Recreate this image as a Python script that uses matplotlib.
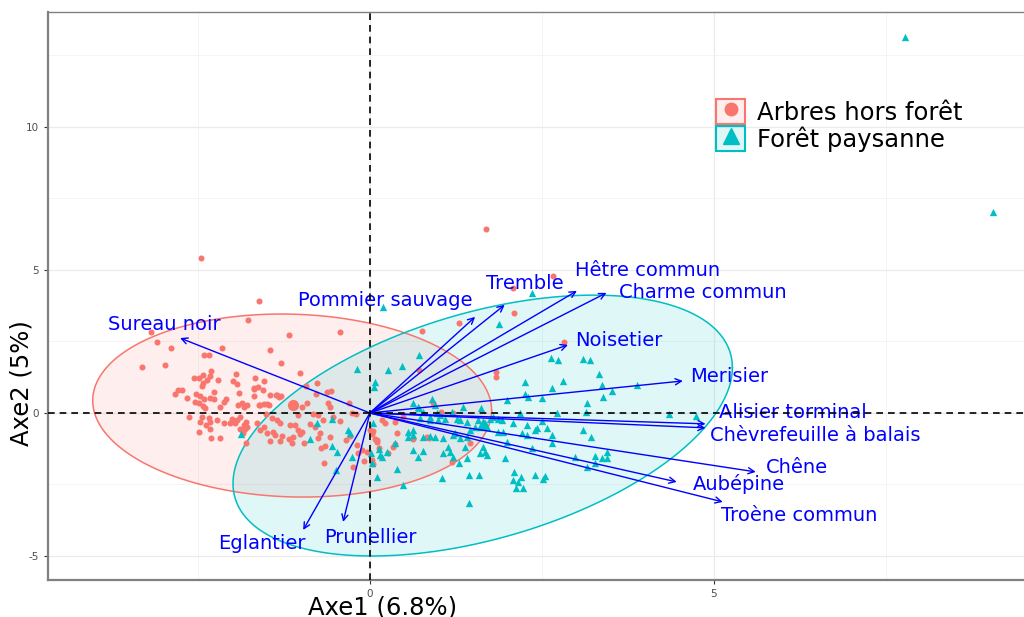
import numpy as np
import matplotlib
matplotlib.use('Agg')
import matplotlib.pyplot as plt
from matplotlib.patches import Patch
from matplotlib.lines import Line2D
from matplotlib.colors import to_rgba

plt.rcParams['axes.unicode_minus'] = False

# variables (fleches de l'ACP)
especes = ['Sureau noir', 'Eglantier', 'Prunellier', 'Pommier sauvage', 'Tremble',
           'Hêtre commun', 'Charme commun', 'Noisetier', 'Merisier', 'Alisier torminal',
           'Chèvrefeuille à balais', 'Chêne', 'Aubépine', 'Troène commun']
axe1 = [-2.76, -0.97, -0.39, 1.53, 1.96, 3.01, 3.44, 2.88, 4.55, 4.88, 4.88, 5.61, 4.46, 5.13]
axe2 = [2.62, -4.09, -3.81, 3.36, 3.78, 4.27, 4.20, 2.38, 1.12, -0.38, -0.52, -2.06, -2.41, -3.11]

# individus
groupes = ['Arbres hors forêt', 'Forêt paysanne']
ahf_x = [-2.46, -1.61, -1.77, -1.18, -0.44, -3.18, -3.10, -2.89, -2.15, -1.45, -2.41, -2.34, -3.31,
         -2.98, -1.29, -2.31, -2.33, -1.02, -1.95, -2.56, -2.49, -2.43, -1.67, -2.37, -2.43, -2.44,
         -1.99, -1.93, -2.21, -1.54, -2.73, -2.79, -2.27, -1.90, -1.69, -1.56, -2.83, -2.53, -2.47,
         -2.41, -2.33, -2.27, -2.66, -2.09, -2.12, -1.37, -1.29, -2.54, -2.49, -2.43, -2.40, -2.18,
         -1.92, -1.83, -1.61, -1.47, -1.54, -2.63, -2.44, -2.34, -2.01, -1.93, -1.89, -2.12, -2.03,
         -1.96, -2.47, -2.38, -2.33, -1.80, -1.83, -1.89, -1.82, -1.85, -2.33, -2.22, -2.49, -2.31,
         -2.18, -1.80, -0.77, -0.93, -0.78, -0.63, -0.57, -1.69, -1.62, -0.31, -1.86, -1.79, -1.69,
         -1.60, -1.50, -1.45, -1.35, -1.32, -0.99, -1.05, -0.92, -0.58, -0.61, -0.26, -0.20, -1.35,
         -1.31, -1.42, -1.51, -0.83, -0.76, -0.68, -0.54, -0.44, -1.79, -1.64, -1.60, -1.54, -1.50,
         -1.41, -1.38, -1.16, -1.09, -1.05, -0.99, -1.02, -0.87, -0.80, -0.73, -0.76, -1.31, -1.18,
         -1.12, -1.13, -0.96, -1.45, -1.28, -0.58, -0.35, -0.29, -0.19, -0.12, -0.04, -0.71, -0.65,
         0.10, 0.07, -0.17, -0.09, -0.67, -0.25, 0.04, 0.03, 0.71, 1.83, 1.83, 0.92, 1.03, 1.21,
         0.48, 0.17, 0.22, 0.36, 0.39, 0.04, 0.10, 0.62, 0.83, 0.86, 0.36, 0.33, 1.45, 0.13, 0.26,
         0.00, 0.03, 1.69, 2.66, 2.08, 2.09, 1.29, 0.76, 2.82, 1.19]
ahf_y = [5.42, 3.92, 3.25, 2.73, 2.83, 2.83, 2.48, 2.27, 2.27, 2.20, 2.03, 2.03, 1.61,
         1.68, 1.75, 1.47, 1.29, 1.40, 1.36, 1.22, 1.22, 1.33, 1.22, 1.15, 1.05, 0.94,
         1.12, 1.01, 1.15, 1.12, 0.80, 0.80, 0.73, 0.70, 0.84, 0.80, 0.66, 0.66, 0.59,
         0.49, 0.52, 0.49, 0.52, 0.49, 0.38, 0.63, 0.59, 0.38, 0.35, 0.24, 0.17, 0.21,
         0.28, 0.21, 0.28, 0.28, 0.31, -0.14, -0.14, -0.17, -0.21, -0.24, -0.14, -0.35, -0.35,
         -0.35, -0.31, -0.42, -0.31, -0.31, -0.42, -0.56, -0.56, -0.70, -0.56, -0.24, -0.66, -0.87,
         -0.87, -1.05, 1.05, 0.94, 0.66, 0.73, 0.77, 0.87, 0.90, 0.35, 0.35, 0.28, 0.59,
         0.28, 0.31, 0.63, 0.63, 0.56, 0.21, -0.07, 0.35, 0.21, 0.35, 0.00, -0.03, -0.24,
         -0.35, -0.17, -0.03, -0.03, -0.07, -0.24, -0.14, -0.28, -0.49, -0.35, -0.59, -0.49, -0.70,
         -0.66, -0.77, -0.42, -0.42, -0.59, -0.66, -0.73, -0.38, -0.49, -0.70, -0.87, -0.98, -0.91,
         -0.84, -1.05, -1.05, -0.98, -0.80, -0.84, -0.94, -0.80, -1.12, -1.29, -1.36, -1.22, -1.15,
         -1.01, -0.90, -1.40, -1.68, -1.75, -1.89, -1.78, -1.64, 1.50, 1.43, 1.26, 0.35, 0.03, 0.00,
         -0.14, -0.24, -0.35, -0.31, -0.70, -0.63, -0.94, -0.91, -0.84, -0.87, -1.08, -1.19, -1.05, -1.22, -1.40,
         -0.59, -0.73, 6.43, 4.79, 4.37, 3.50, 3.15, 2.87, 2.48, -1.71]
fp_x = [7.78, 9.06, 2.35, 1.88, 0.19, -0.19, 0.26, 0.07, 0.06, -0.55, -0.77, -1.88, -0.32, -0.29,
        -0.55, -0.48, -0.26, 0.17, 0.13, 0.03, -0.49, 0.10, 0.39, 0.04, -0.87, 0.01, 0.25, 0.48,
        0.36, 0.55, 0.62, 0.62, 0.70, 0.77, 0.62, 0.70, 0.90, 0.94, 0.77, 0.94, 0.87, 0.99, 0.71,
        0.47, 2.25, 2.81, 2.65, 2.25, 2.30, 2.50, 1.99, 1.61, 1.35, 1.19, 0.71, 0.77, 0.97, 1.02,
        1.09, 0.73, 0.87, 1.26, 1.31, 1.41, 1.57, 1.67, 1.60, 1.70, 1.74, 1.79, 1.86, 1.92, 1.86,
        1.93, 2.08, 2.18, 2.28, 2.40, 2.43, 2.57, 2.65, 2.72, 2.21, 2.28, 0.62, 0.87, 1.06, 1.24,
        1.31, 1.41, 1.45, 1.53, 0.55, 1.13, 1.16, 1.06, 1.64, 1.67, 1.60, 1.70, 1.99, 2.35, 2.65,
        0.15, 1.21, 1.21, 1.38, 1.41, 1.29, 1.96, 1.05, 1.44, 1.58, 2.09, 2.08, 2.15, 2.19, 2.12,
        2.22, 2.40, 2.51, 2.54, 1.44, 2.63, 2.73, 3.10, 3.20, 3.33, 3.37, 3.52, 3.88, 3.39, 3.15,
        3.14, 4.35, 4.74, 2.50, 3.10, 3.21, 2.98, 3.28, 3.37, 3.44, 3.44, 3.28, 3.15]
fp_y = [13.15, 7.03, 4.20, 3.11, 3.71, 1.54, 1.50, 1.08, 0.91, -0.21, -0.35, -0.73, -0.59, -0.70,
        -1.15, -1.36, -1.54, -1.54, -1.26, -1.75, -1.99, -2.24, -1.96, -0.35, -0.91, -1.40, -1.36, -2.52,
        -1.05, -0.66, -0.77, -1.29, -1.54, -1.33, 0.35, 0.21, 0.49, 0.28, -0.84, -0.84, -0.14, -0.24, 2.03,
        1.64, 1.08, 1.12, 0.87, 0.66, 0.56, 0.52, 0.45, 0.17, 0.21, 0.03, 0.17, 0.03, 0.00, -0.07,
        -0.21, -0.17, -0.24, -0.21, -0.24, -0.31, -0.24, -0.35, -0.49, -0.49, -0.21, -0.14, -0.21, -0.24, -0.66,
        -0.66, -0.35, 0.00, -0.42, -0.59, -0.52, -0.52, -0.77, 0.00, -0.70, -0.77, -0.59, -0.80, -0.87, -0.70,
        -0.87, -0.84, -0.59, -0.49, -0.84, -1.19, -1.36, -1.40, -1.19, -1.36, -1.40, -1.47, -1.01, -1.22, -1.05,
        -1.47, -0.77, -1.54, -1.19, -1.57, -1.75, -1.57, -2.27, -2.17, -2.17, -2.06, -2.34, -2.41, -2.24, -2.62,
        -2.62, -2.17, -2.31, -2.20, -3.15, 1.92, 1.85, 1.89, 1.85, 1.36, 0.98, 0.77, 0.98, 0.56, 0.35,
        0.03, -0.03, -0.10, -0.28, -0.59, -0.84, -1.54, -1.50, -1.57, -1.57, -1.36, -1.75, -1.89]
# barycentres et matrices des ellipses de concentration
moy_x = [-1.12, 1.64]
moy_y = [0.28, -0.38]
ell_centre = [(-1.13, 0.26), (1.64, -0.44)]
ell_cov = [[[8.41, -0.5], [-0.5, 10.24]],
           [[13.18, 7.35], [7.35, 20.8]]]

# placement des etiquettes (mise en page)
pos_etiq = [(-2.99, 3.08), (-1.57, -4.55), (0.0, -4.37), (0.22, 3.95), (2.25, 4.51),
            (4.03, 4.97), (4.84, 4.20), (3.62, 2.52), (5.23, 1.26), (6.15, 0.0),
            (6.47, -0.80), (6.21, -1.89), (5.36, -2.48), (6.24, -3.57)]

ROUGE = '#F8766D'
CYAN = '#00BFC4'


def ellipse(centre, cov):
    l = np.linalg.cholesky(np.array(cov))
    t = np.linspace(0, 2 * np.pi, 300)
    pts = (l @ np.vstack([np.cos(t), np.sin(t)])).T
    return pts[:, 0] + centre[0], pts[:, 1] + centre[1]


fig = plt.figure(figsize=(10.24, 6.17), dpi=100)
ax = fig.add_axes([48 / 1024, 1 - 580 / 617, 1 - 48 / 1024, (580 - 12) / 617])
ax.set_xlim(-4.68, 9.51)
ax.set_ylim(-5.84, 14.02)

ax.set_xticks([0, 5])
ax.set_yticks([-5, 0, 5, 10])
ax.set_xticks([-2.5, 2.5, 7.5], minor=True)
ax.set_yticks([-2.5, 2.5, 7.5, 12.5], minor=True)
ax.grid(which='major', color='#ebebeb', lw=0.9, zorder=0)
ax.grid(which='minor', color='#f3f3f3', lw=0.6, zorder=0)
ax.set_axisbelow(True)
ax.tick_params(which='major', labelsize=7.5, labelcolor='#4d4d4d', color='#333333', length=3)
ax.tick_params(which='minor', length=0)
for s in ['left', 'bottom']:
    ax.spines[s].set_color('#808080')
    ax.spines[s].set_linewidth(1.6)
ax.spines['top'].set_color('#808080')
ax.spines['top'].set_linewidth(1.0)
ax.spines['right'].set_visible(False)

couleurs = [ROUGE, CYAN]
for c, cen, cov in zip(couleurs, ell_centre, ell_cov):
    ex, ey = ellipse(cen, cov)
    ax.fill(ex, ey, color=c, alpha=0.12, lw=0, zorder=1)
    ax.plot(ex, ey, color=c, lw=1.1, zorder=2)

ax.scatter(ahf_x, ahf_y, s=19, color=ROUGE, marker='o', lw=0, zorder=3)
ax.scatter(fp_x, fp_y, s=28, color=CYAN, marker='^', lw=0, zorder=3)
ax.scatter(moy_x[:1], moy_y[:1], s=65, color=ROUGE, marker='o', lw=0, zorder=3)
ax.scatter(moy_x[1:], moy_y[1:], s=85, color=CYAN, marker='^', lw=0, zorder=3)

for nom, x, y, (tx, ty) in zip(especes, axe1, axe2, pos_etiq):
    ax.annotate('', xy=(x, y), xytext=(0, 0),
                arrowprops=dict(arrowstyle='->', color='#0000FF', lw=1.0,
                                shrinkA=0, shrinkB=0, mutation_scale=11), zorder=4)
    ax.text(tx, ty, nom, color='#0000FF', fontsize=14, ha='center', va='center', zorder=5)

ax.axhline(0, color='black', ls=(0, (4, 3)), lw=1.2, zorder=6)
ax.axvline(0, color='black', ls=(0, (4, 3)), lw=1.2, zorder=6)

ax.set_xlabel('Axe1 (6.8%)', fontsize=17.5)
ax.set_ylabel('Axe2 (5%)', fontsize=17.5)
ax.xaxis.set_label_coords((383 - 48) / 976, -27 / 568)
ax.yaxis.set_label_coords((22 - 48) / 976, (580 - 383) / 568)
ax.xaxis.label.set_va('center')
ax.yaxis.label.set_va('center')

poignees = [(Patch(facecolor=to_rgba(ROUGE, 0.12), edgecolor=ROUGE, lw=1.5),
             Line2D([], [], marker='o', color=ROUGE, ls='', markersize=9)),
            (Patch(facecolor=to_rgba(CYAN, 0.12), edgecolor=CYAN, lw=1.5),
             Line2D([], [], marker='^', color=CYAN, ls='', markersize=11))]
fig.legend(poignees, groupes, loc='upper left', bbox_to_anchor=(716 / 1024, 1 - 99 / 617),
           frameon=False, fontsize=17.5, handlelength=1.2, handleheight=1.2,
           handletextpad=0.5, labelspacing=0.05, borderpad=0, borderaxespad=0)

fig.savefig('out.png', dpi=100)
